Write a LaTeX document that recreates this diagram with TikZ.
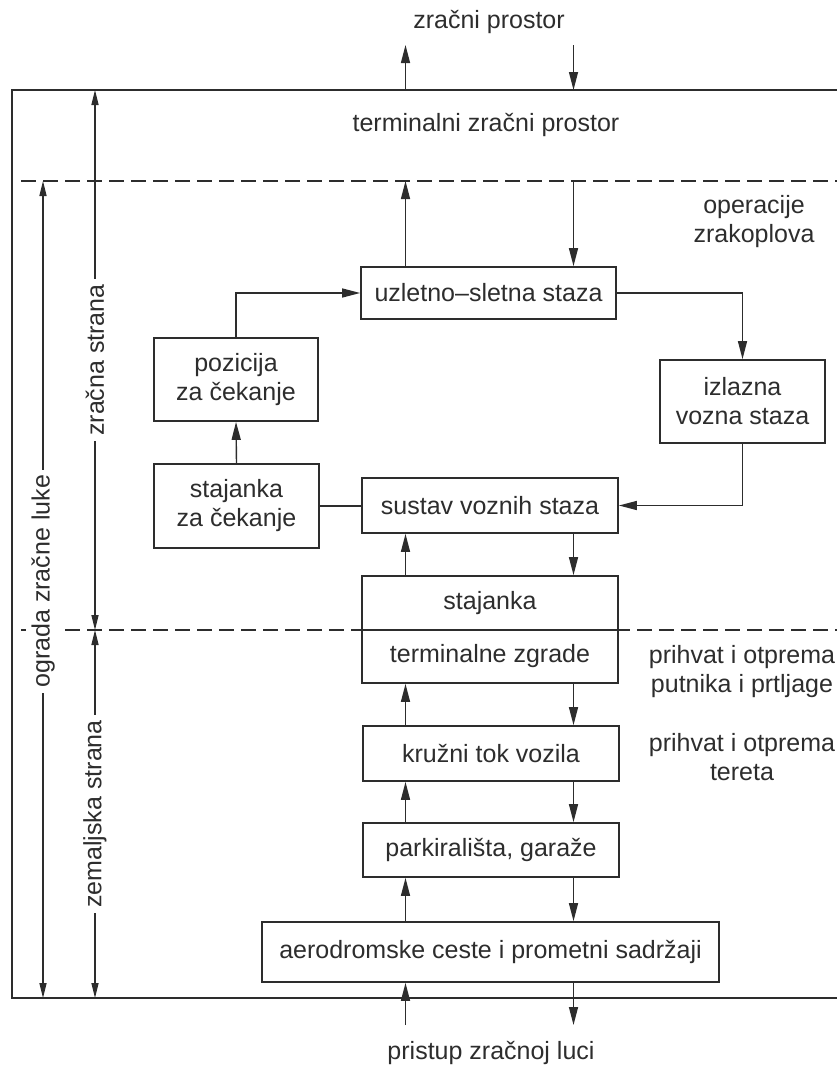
\documentclass[tikz,border=0pt]{standalone}
\usepackage{fontspec}
\setmainfont{Liberation Sans}
\usetikzlibrary{arrows.meta}
\definecolor{ink}{RGB}{45,45,45}
\begin{document}
\begin{tikzpicture}[x=1pt,y=-1pt,
 lab/.style={font=\fontsize{25}{29}\selectfont, text=ink, align=center},
 box/.style={lab, draw=ink, line width=1.7pt, fill=white, inner sep=0pt},
 arr/.style={draw=ink, line width=1.4pt, -{Triangle[length=18pt,width=9pt]}},
 conn/.style={draw=ink, line width=1.4pt},
 dim/.style={draw=ink, line width=1.3pt, {Triangle[length=15pt,width=7pt]}-{Triangle[length=15pt,width=7pt]}},
 rotlab/.style={lab, rotate=90, fill=white, inner sep=5pt},
 frame/.style={draw=ink, line width=1.8pt},
 sep/.style={draw=ink, line width=1.7pt, dash pattern=on 15pt off 7pt}]
\useasboundingbox (0,0) rectangle (837,1068);
% frame
\coordinate (fTR) at (837,90);
\coordinate (fTL) at (12,90);
\coordinate (fBL) at (12,998);
\coordinate (fBR) at (837,998);
\draw[frame] (fTR) -- (fTL) -- (fBL) -- (fBR);
% separators
\coordinate (s1a) at (21,181);
\coordinate (s1b) at (837,181);
\coordinate (s2a) at (21,630);
\coordinate (s2b) at (837,630);
\draw[sep] (s1a) -- (s1b);
\draw[sep] (s2a) -- (s2b);
% dimension lines
\coordinate (og1) at (43,181);
\coordinate (og2) at (43,998);
\coordinate (zs1) at (95,90);
\coordinate (zs2) at (95,630);
\coordinate (zm2) at (95,998);
\draw[dim] (og1) -- node[rotlab, pos=0.49] (ogl) {ograda zračne luke} (og2);
\draw[dim] (zs1) -- node[rotlab] (zsl) {zračna strana} (zs2);
\draw[dim] (zs2) -- node[rotlab] (zml) {zemaljska strana} (zm2);
% boxes
\node[box, minimum width=255pt, minimum height=52pt] (rw) at (488.5,293) {uzletno–sletna staza};
\node[box, minimum width=164pt, minimum height=83pt] (poz) at (236,379.5) {pozicija\\za čekanje};
\node[box, minimum width=165pt, minimum height=84pt] (scek) at (236.5,506) {stajanka\\za čekanje};
\node[box, minimum width=165pt, minimum height=83pt] (izl) at (742.5,401.5) {izlazna\\vozna staza};
\node[box, minimum width=256pt, minimum height=55pt] (sus) at (490,505.5) {sustav voznih staza};
\node[box, minimum width=256pt, minimum height=54pt] (staj) at (490,603) {stajanka};
\node[box, minimum width=256pt, minimum height=53pt] (term) at (490,656.5) {terminalne zgrade};
\node[box, minimum width=256pt, minimum height=55pt] (kruz) at (491,753.5) {kružni tok vozila};
\node[box, minimum width=256pt, minimum height=54pt] (park) at (491,850) {parkirališta, garaže};
\node[box, minimum width=457pt, minimum height=60pt] (aero) at (490.5,952) {aerodromske ceste i prometni sadržaji};
% connectors
\coordinate (ux) at (405.5,0);
\coordinate (dx) at (573.5,0);
\coordinate (outU) at (405.5,45);
\coordinate (outD) at (573.5,45);
\coordinate (inU) at (405.5,1025);
\coordinate (inD) at (573.5,1025);
\draw[arr] (ux |- fTL) -- (outU);
\draw[arr] (outD) -- (dx |- fTL);
\draw[arr] (rw.north -| ux) -- (ux |- s1a);
\draw[arr] (dx |- s1a) -- (rw.north -| dx);
\draw[arr] (poz.north) |- (rw.west);
\draw[arr] (scek.north) -- (poz.south);
\draw[conn] (scek.east) -- (scek.east -| sus.west);
\draw[arr] (rw.east) -| (izl.north);
\draw[arr] (izl.south) |- (sus.east);
\draw[arr] (staj.north -| ux) -- (sus.south -| ux);
\draw[arr] (sus.south -| dx) -- (staj.north -| dx);
\draw[arr] (kruz.north -| ux) -- (term.south -| ux);
\draw[arr] (term.south -| dx) -- (kruz.north -| dx);
\draw[arr] (park.north -| ux) -- (kruz.south -| ux);
\draw[arr] (kruz.south -| dx) -- (park.north -| dx);
\draw[arr] (aero.north -| ux) -- (park.south -| ux);
\draw[arr] (park.south -| dx) -- (aero.north -| dx);
\draw[arr] (inU) -- (aero.south -| ux);
\draw[arr] (aero.south -| dx) -- (inD);
% texts
\node[lab] (zp) at (489,22) {zračni prostor};
\node[lab] (tzp) at (486,125) {terminalni zračni prostor};
\node[lab] (op) at (754,222) {operacije\\zrakoplova};
\node[lab] (pp) at (742,672) {prihvat i otprema\\putnika i prtljage};
\node[lab] (pt) at (742,757) {prihvat i otprema\\tereta};
\node[lab] (pr) at (491,1053) {pristup zračnoj luci};
\end{tikzpicture}
\end{document}
